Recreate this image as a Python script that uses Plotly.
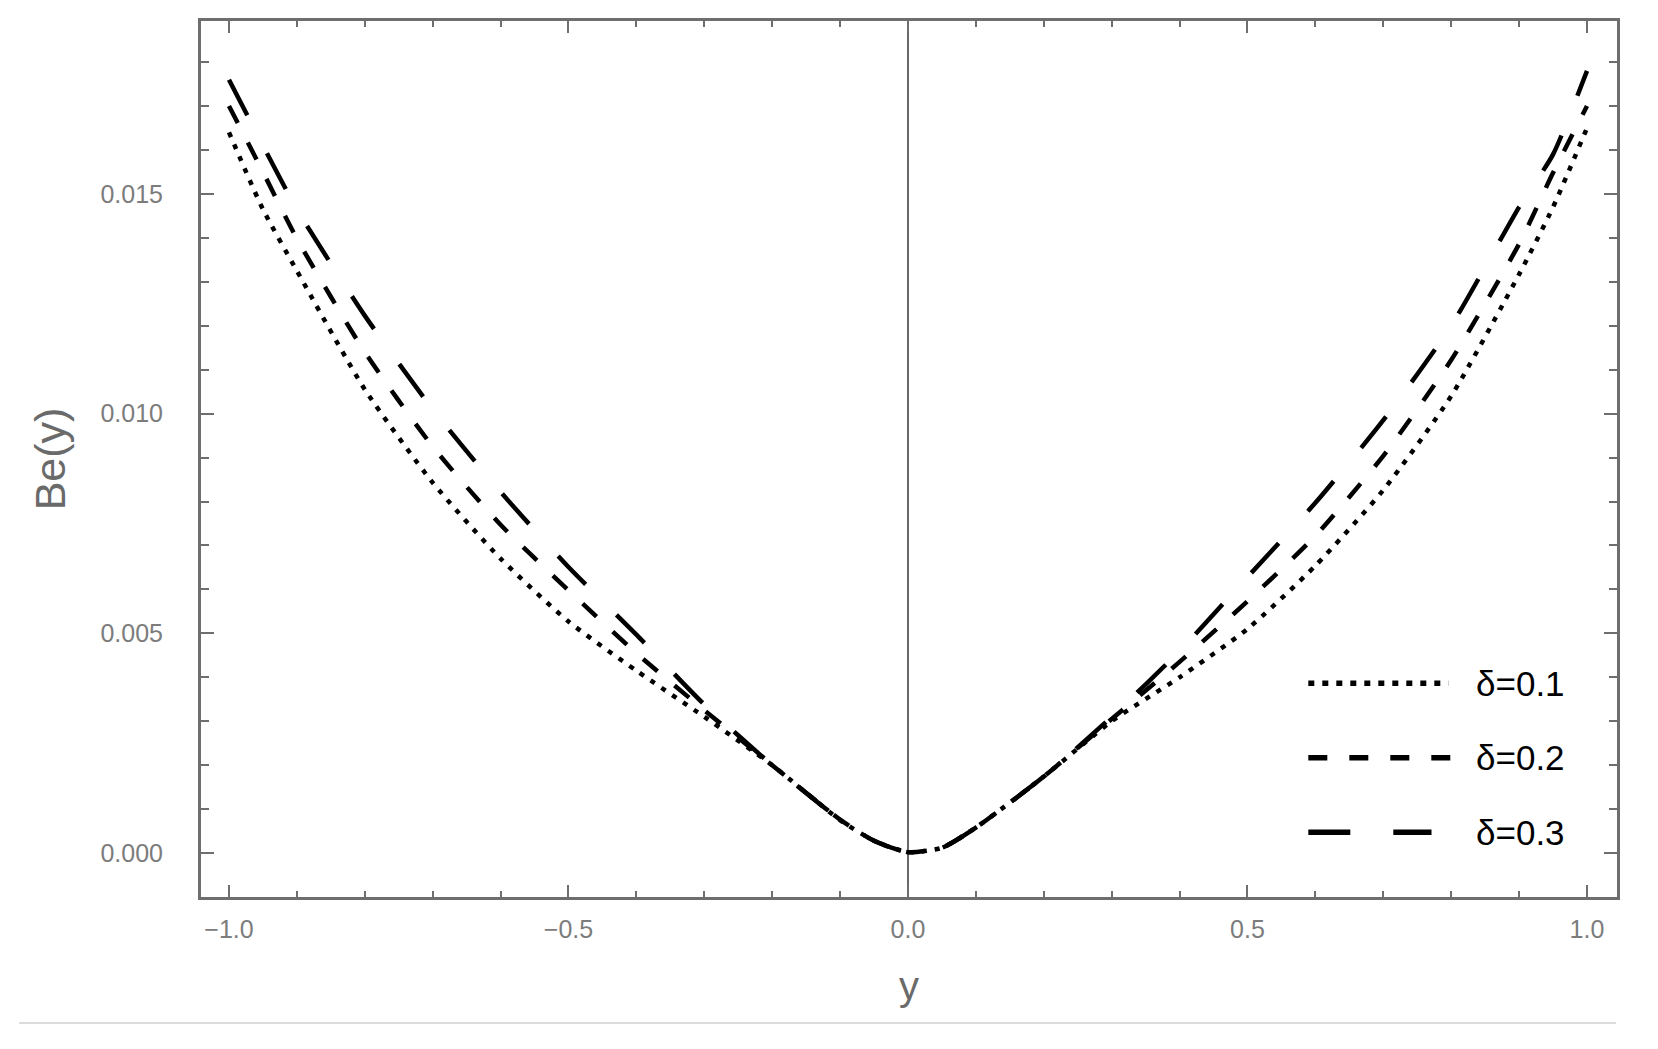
import plotly.graph_objects as go

# Be(y) profiles for three values of delta
y_pos = [-1.0, -0.95, -0.9, -0.8, -0.7, -0.6, -0.5, -0.4, -0.3, -0.2, -0.1, -0.05, 0.0,
         0.05, 0.1, 0.2, 0.3, 0.4, 0.5, 0.6, 0.7, 0.8, 0.9, 0.95, 1.0]
be_d01 = [0.0164, 0.01465, 0.01325, 0.01055, 0.00843, 0.0067, 0.00527, 0.00415, 0.0031, 0.0020,
          0.00075, 0.00028, 0.00002, 0.00012, 0.00058, 0.00174, 0.0030, 0.0040, 0.0051, 0.00654,
          0.00826, 0.0104, 0.01317, 0.0147, 0.0165]
be_d02 = [0.0170, 0.0155, 0.01398, 0.0114, 0.00925, 0.00747, 0.00598, 0.00455, 0.00325, 0.0020,
          0.00076, 0.00028, 0.00002, 0.00012, 0.00058, 0.00174, 0.00305, 0.00435, 0.00573, 0.00722,
          0.00904, 0.01122, 0.01386, 0.01548, 0.0170]
be_d03 = [0.0176, 0.0161, 0.01465, 0.01223, 0.0101, 0.00822, 0.00651, 0.00497, 0.00338, 0.0020,
          0.00076, 0.00028, 0.00002, 0.00012, 0.00058, 0.00174, 0.0031, 0.0046, 0.00628, 0.00797,
          0.00985, 0.0120, 0.0147, 0.0159, 0.0178]
labels = ["δ=0.1", "δ=0.2", "δ=0.3"]
dashes = ["5px,8px", "19px,22px", "40px,43px"]

FRAME = "#6e6e6e"
TICKTXT = "#7c7c7c"
FONT = "Liberation Sans, Arial, sans-serif"

fig = go.Figure()
for vals, name, dash in zip([be_d01, be_d02, be_d03], labels, dashes):
    fig.add_trace(go.Scatter(
        x=y_pos, y=vals, mode="lines", name=name, showlegend=False,
        line=dict(color="black", width=4.5, dash=dash, shape="spline", smoothing=0.6),
    ))

# hand-drawn legend (long line samples like the original)
legend_rows = [(0.244, 0.881, "6px,8px"), (0.159, 0.885, "19px,22px"), (0.074, 0.869, "42px,43px")]
shapes = []
annotations = []
for (yy, x1, dash), name in zip(legend_rows, labels):
    shapes.append(dict(type="line", xref="paper", yref="paper", x0=0.782, x1=x1, y0=yy, y1=yy,
                       line=dict(color="black", width=5.5, dash=dash)))
    annotations.append(dict(xref="paper", yref="paper", x=0.899, y=yy, text=name, showarrow=False,
                            xanchor="left", yanchor="middle", font=dict(family=FONT, size=35, color="black")))

# light separator under the figure
shapes.append(dict(type="line", xref="paper", yref="paper", x0=-0.1285, x1=0.9993, y0=-0.1438, y1=-0.1438,
                   line=dict(color="#d0d0d0", width=1.5)))

axis_common = dict(
    showline=True, mirror="ticks", linecolor=FRAME, linewidth=3,
    ticks="inside", tickcolor=FRAME, tickwidth=2,
    showgrid=False, automargin=False,
    tickfont=dict(family=FONT, size=25, color=TICKTXT),
)

fig.update_layout(
    width=1658, height=1049,
    paper_bgcolor="white", plot_bgcolor="white",
    margin=dict(l=193, r=49, t=13, b=160),
    font=dict(family=FONT),
    shapes=shapes,
    annotations=annotations,
    xaxis=dict(
        axis_common,
        range=[-1.0412, 1.0442], dtick=0.5, tick0=0, tickformat=".1f", ticklen=12,
        ticklabelstandoff=8,
        minor=dict(dtick=0.1, ticks="inside", ticklen=6, tickwidth=1.5, tickcolor=FRAME),
        zeroline=True, zerolinecolor="#686868", zerolinewidth=2,
        title=dict(text="y", font=dict(family=FONT, size=40, color="#6a6a6a"), standoff=30),
    ),
    yaxis=dict(
        axis_common,
        range=[-0.0010, 0.018935], dtick=0.005, tick0=0, tickformat=".3f", ticklen=13,
        ticklabelstandoff=30,
        minor=dict(dtick=0.001, ticks="inside", ticklen=8, tickwidth=1.5, tickcolor=FRAME),
        zeroline=False,
        title=dict(text="Be(y)", font=dict(family=FONT, size=43, color="#6a6a6a"), standoff=22),
    ),
)

fig.write_html("out.html")
